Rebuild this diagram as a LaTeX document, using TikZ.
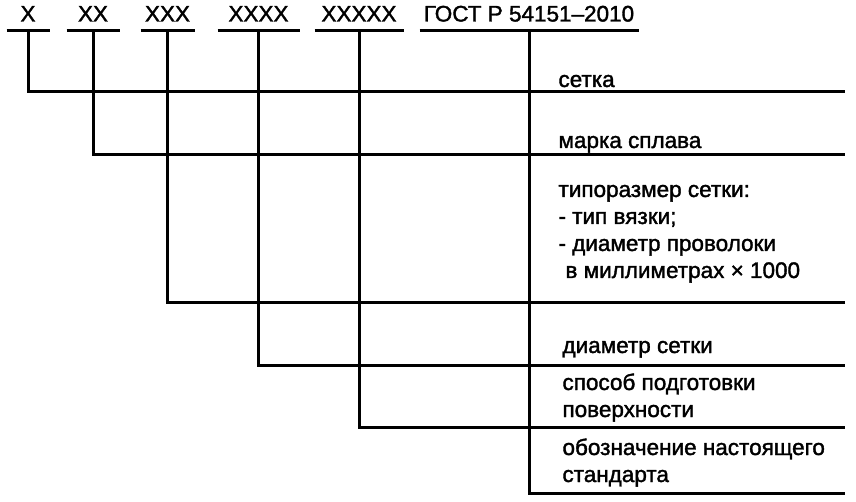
\documentclass[tikz,border=0pt]{standalone}
\usepackage{fontspec}
\setmainfont{Liberation Sans}[AutoFakeBold=1.6]
\begin{document}
\begin{tikzpicture}[x=1pt,y=-1pt,line width=3pt,
  field/.style={anchor=south,inner xsep=0pt,inner ysep=8pt,text depth=0pt,font=\fontsize{22.5}{27}\selectfont\bfseries},
  desc/.style={anchor=base west,inner sep=0pt,font=\fontsize{22.5}{27}\selectfont\bfseries},
  uline/.style={line width=3pt},
  link/.style={line width=3pt}]
\useasboundingbox[fill=white] (0,0) rectangle (856,502);
% designation fields
\node[field,minimum width=40pt]  (f1) at (28,31)    {X};
\node[field,minimum width=50pt]  (f2) at (93,31)    {XX};
\node[field,minimum width=51pt]  (f3) at (167.5,31) {XXX};
\node[field,minimum width=79pt]  (f4) at (258.5,31) {XXXX};
\node[field,minimum width=86pt]  (f5) at (359,31)   {XXXXX};
\node[field,minimum width=216pt] (f6) at (529,31)   {ГОСТ Р 54151–2010};
\foreach \f in {f1,f2,f3,f4,f5,f6}
  \draw[uline] (\f.south west) -- (\f.south east);
% right ends of the leaders
\coordinate (e1) at (845,92);
\coordinate (e2) at (845,155);
\coordinate (e3) at (845,303);
\coordinate (e4) at (845,365);
\coordinate (e5) at (845,427);
\coordinate (e6) at (845,493);
% descriptions
\node[desc] (d1) at (557,87)  {сетка};
\node[desc] (d2) at (557,148) {марка сплава};
\node[desc] (d3) at (557,197) {\begin{tabular}[t]{@{}l@{}}типоразмер сетки:\\- тип вязки;\\- диаметр проволоки\\\hspace{7pt}в миллиметрах × 1000\end{tabular}};
\node[desc] (d4) at (561,353) {диаметр сетки};
\node[desc] (d5) at (561,390) {\begin{tabular}[t]{@{}l@{}}способ подготовки\\поверхности\end{tabular}};
\node[desc] (d6) at (561,455) {\begin{tabular}[t]{@{}l@{}}обозначение настоящего\\стандарта\end{tabular}};
% leaders
\draw[link] (f1.south) |- (e1);
\draw[link] (f2.south) |- (e2);
\draw[link] (f3.south) |- (e3);
\draw[link] (f4.south) |- (e4);
\draw[link] (f5.south) |- (e5);
\draw[link] (f6.south) |- (e6);
\end{tikzpicture}
\end{document}
